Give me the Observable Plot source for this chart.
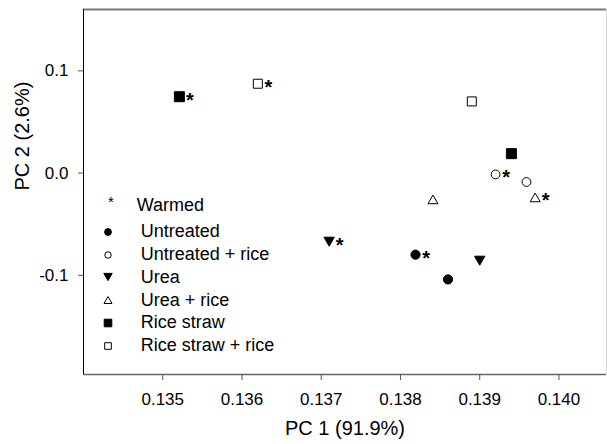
<!DOCTYPE html>
<html><head><meta charset="utf-8">
<script src="https://cdn.jsdelivr.net/npm/d3@7"></script>
<script src="https://cdn.jsdelivr.net/npm/@observablehq/plot@0.6"></script>
<style>
html,body{margin:0;padding:0;background:#fff;}
#wrap{position:relative;width:607px;height:444px;font-family:"Liberation Sans",Arial,sans-serif;}
.lg{position:absolute;white-space:nowrap;color:#000;}
</style></head><body><div id="wrap"></div>
<script>
// ---- data ----
const treatments = ["Untreated", "Untreated + rice", "Urea", "Urea + rice", "Rice straw", "Rice straw + rice"];
const pc1Ambient = [0.13860, 0.13959, 0.13900, 0.13841, 0.13940, 0.13890];
const pc2Ambient = [-0.1040, -0.0087, -0.0857, -0.0257, 0.0190, 0.0701];
const pc1Warmed  = [0.13819, 0.13920, 0.13710, 0.13970, 0.13521, 0.13620];
const pc2Warmed  = [-0.0798, -0.0013, -0.0671, -0.0238, 0.0747, 0.0874];
const xTicks = [0.135, 0.136, 0.137, 0.138, 0.139, 0.140];
const yTicks = [-0.1, 0.0, 0.1];
const xDomain = [0.134, 0.1406];
const yDomain = [-0.197, 0.16];
const xLabel = "PC 1 (91.9%)";
const yLabel = "PC 2 (2.6%)";
const warmedLabel = "Warmed";
const warmedMark = "*";

// ---- styles ----
const style = {
  "Untreated":         {kind: "circle", filled: true,  r: 4.6, lr: 3.4},
  "Untreated + rice":  {kind: "circle", filled: false, r: 4.4, lr: 3.2},
  "Urea":              {kind: "down",   filled: true,  r: 5.2, lr: 4.2},
  "Urea + rice":       {kind: "up",     filled: false, r: 5.0, lr: 4.0},
  "Rice straw":        {kind: "square", filled: true,  r: 5.0, lr: 3.8},
  "Rice straw + rice": {kind: "square", filled: false, r: 4.5, lr: 3.3}
};
function drawShape(kind, ctx, r) {
  const h = r * Math.sqrt(3);
  if (kind === "circle") { ctx.moveTo(r, 0); ctx.arc(0, 0, r, 0, 2 * Math.PI); }
  else if (kind === "square") { ctx.rect(-r, -r, 2 * r, 2 * r); }
  else if (kind === "up") { ctx.moveTo(0, -h / 2); ctx.lineTo(r, h / 2); ctx.lineTo(-r, h / 2); ctx.closePath(); }
  else { ctx.moveTo(0, h / 2); ctx.lineTo(r, -h / 2); ctx.lineTo(-r, -h / 2); ctx.closePath(); }
}
function shape(kind) {
  return {draw(ctx, size) { drawShape(kind, ctx, Math.sqrt(size / Math.PI)); }};
}

const points = treatments.flatMap((t, i) => [
  {treatment: t, pc1: pc1Ambient[i], pc2: pc2Ambient[i], warmed: false},
  {treatment: t, pc1: pc1Warmed[i], pc2: pc2Warmed[i], warmed: true}
]);

const font = "Liberation Sans, Arial, sans-serif";
const chart = Plot.plot({
  width: 607, height: 444,
  marginLeft: 83, marginRight: 1, marginTop: 9, marginBottom: 70,
  style: {fontFamily: font, fontSize: "17px", color: "black", background: "white"},
  x: {domain: xDomain},
  y: {domain: yDomain},
  marks: [
    Plot.ruleX([xDomain[1]], {stroke: "#d8d8d8", strokeWidth: 1}),
    Plot.ruleY([yDomain[1]], {stroke: "#7a7a7a", strokeWidth: 2}),
    Plot.ruleY([yDomain[0]], {stroke: "#666", strokeWidth: 1.5}),
    Plot.ruleX([xDomain[0]], {stroke: "black", strokeWidth: 1}),
    Plot.axisX(xTicks, {tickSize: 6, tickPadding: 12, tickFormat: d => d.toFixed(3), fontSize: 17, label: null, stroke: "#555", fill: "black"}),
    Plot.axisY(yTicks, {tickSize: 5, tickPadding: 10, tickFormat: d => d.toFixed(1), fontSize: 17, label: null, stroke: "#555", fill: "black"}),
    ...treatments.map(t => Plot.dot(points.filter(d => d.treatment === t), {
      x: "pc1", y: "pc2", symbol: shape(style[t].kind), r: style[t].r,
      fill: style[t].filled ? "black" : "white", stroke: "black", strokeWidth: 1
    })),
    Plot.text(points.filter(d => d.warmed), {x: "pc1", y: "pc2", text: () => warmedMark, dx: 10.5, dy: 3.5, fontSize: 20, fontWeight: "bold", fill: "black"}),
    Plot.text([xLabel], {text: d => d, frameAnchor: "bottom", dy: 60.6, fontSize: 20, fill: "black"}),
    Plot.text([yLabel], {text: d => d, frameAnchor: "left", rotate: -90, dx: -61.4, dy: -1.5, fontSize: 20, fill: "black"})
  ]
});
const wrap = document.getElementById("wrap");
wrap.appendChild(chart);

// ---- legend (drawn inside the frame, lower left) ----
const symX = 108.4, textX = 140.7;
const rowTop = 231.7, rowStep = 22.8;
const w = d3.select(wrap);
// warmed row
const ws = w.append("svg").attr("class", "lg")
  .style("left", (110.7 - 10) + "px").style("top", (200.7 - 10) + "px")
  .attr("width", 20).attr("height", 20);
ws.append("text").attr("x", 10).attr("y", 16).attr("text-anchor", "middle")
  .attr("font-family", font).attr("font-size", 15).attr("fill", "black").text(warmedMark);
w.append("div").attr("class", "lg")
  .style("left", "136.7px").style("top", (205 - 11.5) + "px")
  .style("line-height", "23px").style("font-size", "18px")
  .text(warmedLabel);
treatments.forEach((t, i) => {
  const cy = rowTop + i * rowStep;
  const s = style[t];
  const svg = w.append("svg").attr("class", "lg")
    .style("left", (symX - 10) + "px").style("top", (cy - 10) + "px")
    .attr("width", 20).attr("height", 20);
  const p = d3.path();
  drawShape(s.kind, p, s.lr);
  svg.append("path").attr("d", p.toString()).attr("transform", "translate(10,10)")
    .attr("fill", s.filled ? "black" : "white").attr("stroke", "black").attr("stroke-width", 1);
  w.append("div").attr("class", "lg")
    .style("left", textX + "px").style("top", (cy - 11.5) + "px")
    .style("line-height", "23px").style("font-size", "18px")
    .text(t);
});
</script>
</body></html>
